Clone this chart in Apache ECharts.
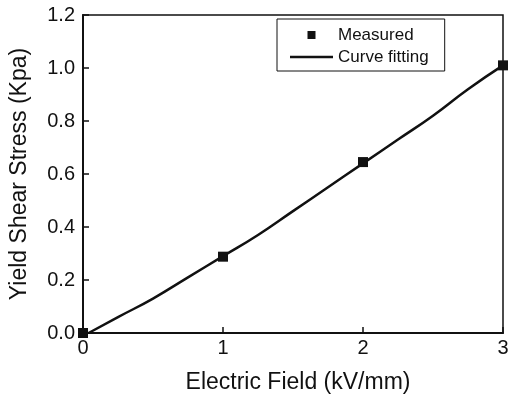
<!DOCTYPE html>
<html>
<head>
<meta charset="utf-8">
<script src="https://cdn.jsdelivr.net/npm/echarts@6/dist/echarts.min.js"></script>
<style>
  html, body { margin: 0; padding: 0; background: #fff; }
  #chart { width: 509px; height: 399px; }
</style>
</head>
<body>
<div id="chart"></div>
<script>
// measured points
const measuredField = [0, 1, 2, 3]
const measuredStress = [0.0, 0.288, 0.645, 1.01]

// fitted curve
const fitField = [0.04, 0.25, 0.5, 0.75, 1.0, 1.25, 1.5, 1.75, 2.0, 2.25, 2.5, 2.75, 3.0]
const fitStress = [0.0, 0.06, 0.13, 0.21, 0.29, 0.37, 0.46, 0.55, 0.64, 0.73, 0.82, 0.92, 1.01]

const fontFamily = '"Liberation Sans", Arial, sans-serif'
const ink = '#111'

const chart = echarts.init(document.getElementById('chart'), null, { renderer: 'canvas' })

const option = {
  animation: false,
  backgroundColor: '#fff',
  textStyle: { fontFamily: fontFamily, color: ink },
  grid: {
    left: 83,
    top: 15,
    right: 6,
    bottom: 66,
    outerBoundsMode: 'none',
    containLabel: false,
    show: true,
    borderColor: ink,
    borderWidth: 1.5,
    backgroundColor: 'transparent'
  },
  legend: {
    orient: 'vertical',
    left: 277,
    top: 19,
    padding: [7, 16, 5, 13],
    itemWidth: 43,
    itemHeight: 8,
    itemGap: 4,
    symbolKeepAspect: true,
    borderColor: ink,
    borderWidth: 1,
    textStyle: { fontFamily: fontFamily, fontSize: 17, color: ink, lineHeight: 18 },
    data: [
      { name: 'Measured', icon: 'path://M0,0L10,0L10,10L0,10Z', itemStyle: { color: ink, opacity: 1 } },
      { name: 'Curve fitting', icon: 'path://M0,0L43,0L43,2.5L0,2.5Z', itemStyle: { color: ink, opacity: 1 } }
    ]
  },
  xAxis: {
    type: 'value',
    min: 0,
    max: 3,
    interval: 1,
    name: 'Electric Field (kV/mm)',
    nameLocation: 'middle',
    nameGap: 38,
    nameTextStyle: { fontSize: 23, color: ink, padding: [0, 0, 0, 10] },
    splitLine: { show: false },
    axisLine: { lineStyle: { color: ink, width: 2 } },
    axisTick: { inside: true, length: 6, lineStyle: { color: ink, width: 1.5 } },
    axisLabel: { fontSize: 20, color: ink, margin: 5 }
  },
  yAxis: {
    type: 'value',
    min: 0,
    max: 1.2,
    interval: 0.2,
    name: 'Yield Shear Stress (Kpa)',
    nameLocation: 'middle',
    nameGap: 52,
    nameTextStyle: { fontSize: 23, color: ink },
    splitLine: { show: false },
    axisLine: { lineStyle: { color: ink, width: 2 } },
    axisTick: { inside: true, length: 6, lineStyle: { color: ink, width: 1.5 } },
    axisLabel: {
      fontSize: 20,
      color: ink,
      margin: 8,
      formatter: v => v.toFixed(1)
    }
  },
  series: [
    {
      name: 'Measured',
      type: 'scatter',
      symbol: 'rect',
      symbolSize: 10,
      itemStyle: { color: ink, opacity: 1 },
      clip: true,
      z: 3,
      data: measuredField.map((x, i) => [x, measuredStress[i]])
    },
    {
      name: 'Curve fitting',
      type: 'line',
      smooth: true,
      symbol: 'none',
      lineStyle: { color: ink, width: 2.5 },
      itemStyle: { color: ink },
      z: 2,
      data: fitField.map((x, i) => [x, fitStress[i]])
    }
  ]
}

chart.setOption(option)
</script>
</body>
</html>
